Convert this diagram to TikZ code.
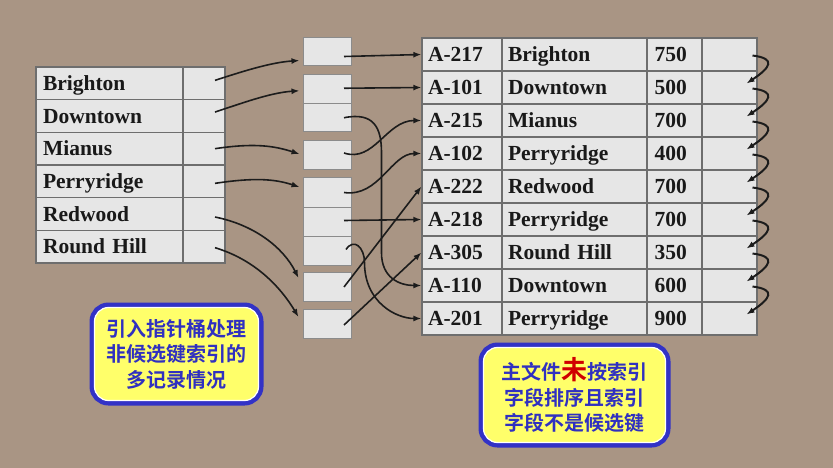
\documentclass[tikz,border=0pt]{standalone}
\usepackage{fontspec}
\newfontfamily\tabfont{Liberation Serif Bold}
\newfontfamily\cjkfont{Noto Sans CJK SC Bold}
\usepackage{xcolor}
\definecolor{bgBrown}    {HTML}{A99584}
\definecolor{cellFill}   {HTML}{E6E6E6}
\definecolor{cellLine}   {HTML}{6E6E6E}
\definecolor{arrowInk}   {HTML}{1C1C1C}
\definecolor{noteBlue}   {HTML}{3232C6}
\definecolor{noteText}   {HTML}{3030C0}
\definecolor{noteYellow} {HTML}{FFFF6A}
\definecolor{noteRed}    {HTML}{D00000}
\usetikzlibrary{arrows.meta, positioning, calc}
\tikzset{
    cell/.style={draw=cellLine, fill=cellFill, line width=1.2pt, inner ysep=0pt,
                 minimum height=33pt, text=black!90, text height=17pt, text depth=3pt,
                 font=\tabfont\fontsize{21.5}{24}\selectfont},
    textcell/.style={cell, align=left, text width=#1},
    ptrcell/.style={cell, inner xsep=0pt, minimum width=#1},
    bucket/.style={draw=cellLine!80, fill=cellFill, line width=1pt,
                   minimum width=48pt, minimum height=28.5pt, inner sep=0pt},
    ptr/.style={draw=arrowInk, line width=1.6pt, -{Latex[length=8pt, width=6pt]}},
    chain/.style={ptr, line width=2pt},
    note/.style={draw=white, line width=1.2pt, fill=noteYellow,
                 rounded corners=14pt, inner sep=0pt, align=center,
                 preaction={draw=noteBlue, line width=10pt},
                 text=noteText, font=\cjkfont\fontsize{20}{25.5}\selectfont},
}
\begin{document}
\begin{tikzpicture}[x=1pt, y=-1pt]
\useasboundingbox (0,0) rectangle (833,468);
\fill[bgBrown] (0,0) rectangle (833,468);
% Index on branch name: key and bucket pointer.
\foreach \name [count=\i] in {Brighton, Downtown, Mianus, Perryridge, Redwood, Round Hill} {
    \node[textcell=133pt, inner xsep=7pt, minimum height=32.7pt] (ln\i) at (109.5, {50.67+32.67*\i}) {\name};
    \node[ptrcell=42pt, minimum height=32.7pt] (lp\i) at (204, {50.67+32.67*\i}) {};
}
% Buckets of record pointers.
\node[bucket] (b1)  at (327, 51.5) {};
\node[bucket] (b2a) at (327, 89.25) {};
\node[bucket] (b2b) at (327,117.75) {};
\node[bucket] (b3)  at (327,155) {};
\node[bucket, minimum height=29pt] (b4a) at (327,192.5) {};
\node[bucket, minimum height=29pt] (b4b) at (327,221.5) {};
\node[bucket, minimum height=29pt] (b4c) at (327,250.5) {};
\node[bucket] (b5)  at (327,287) {};
\node[bucket] (b6)  at (327,324) {};
% Main file: account records, not sorted on branch name.
\foreach \acct/\branch/\bal [count=\i] in {A-217/Brighton/750, A-101/Downtown/500,
        A-215/Mianus/700, A-102/Perryridge/400, A-222/Redwood/700,
        A-218/Perryridge/700, A-305/Round Hill/350, A-110/Downtown/600,
        A-201/Perryridge/900} {
    \node[textcell=68pt, inner xsep=6pt]  (rid\i)  at (462,   {21.5+33*\i}) {\acct};
    \node[textcell=133pt, inner xsep=6pt] (rbr\i)  at (574.5, {21.5+33*\i}) {\branch};
    \node[textcell=40pt, inner xsep=7.5pt] (rbal\i) at (674.5, {21.5+33*\i}) {\bal};
    \node[ptrcell=55pt] (rptr\i) at (729.5, {21.5+33*\i}) {};
}
% Index entries to buckets.
\draw[ptr] ($(lp1.center)+(11,-3)$) .. controls +(25,-8) and +(-30,2) .. ($(b1.west)+(-3,9)$);
\draw[ptr] ($(lp2.center)+(11,-4)$) .. controls +(25,-8) and +(-30,2) .. ($(b2a.west)+(-3,1.5)$);
\draw[ptr] ($(lp3.center)+(11,0)$) .. controls +(40,-6) and +(-25,-8) .. ($(b3.west)+(-3,-1)$);
\draw[ptr] ($(lp4.center)+(11,2)$) .. controls +(40,-6) and +(-25,-8) .. ($(b4a.west)+(-3,-5.5)$);
\draw[ptr] ($(lp5.center)+(11,3)$) .. controls +(40,8) and +(-15,-30) .. ($(b5.west)+(-4,-9)$);
\draw[ptr] ($(lp6.center)+(11,1)$) .. controls +(40,12) and +(-18,-30) .. ($(b6.west)+(-4,-7)$);
% Buckets to records.
\draw[ptr] ($(b1.center)+(17,5)$) -- (rid1.west);
\draw[ptr] ($(b2a.center)+(17,-1)$) -- (rid2.west);
\draw[ptr] ($(b2b.center)+(17,0)$) .. controls +(30,-6) and +(0,-25) .. ($(b2b.east)+(30,35)$)
    -- ($(b2b.east)+(30,135)$) .. controls +(0,25) and +(-22,0) .. (rid8.west);
\draw[ptr] ($(b3.center)+(17,-2)$) .. controls +(30,10) and +(-35,0) .. (rid3.west);
\draw[ptr] ($(b4a.center)+(17,0)$) .. controls +(35,5) and +(-30,0) .. (rid4.west);
\draw[ptr] ($(b4b.center)+(17,-1)$) -- (rid6.west);
\draw[ptr] ($(b4c.center)+(19,-1)$) .. controls +(8,-12) and +(0,-15) .. ($(b4c.east)+(13,12)$)
    .. controls +(0,40) and +(-25,0) .. (rid9.west);
\draw[ptr] ($(b5.center)+(17,0)$) -- (rid5.west);
\draw[ptr] ($(b6.center)+(17,1)$) -- (rid7.west);
% Chain of records with the same key.
\foreach \k [count=\j from 2] in {1,...,8}
    \draw[chain] ($(rptr\k.center)+(23,1)$) .. controls +(24,3) and +(24,-16) .. ($(rptr\j.center)+(17,-4)$);
% Notes.
\node[note, minimum width=164pt, minimum height=93pt] (noteL) at (176.5,354)
    {引入指针桶处理\\非候选键索引的\\多记录情况};
\node[note, minimum width=182pt, minimum height=95pt] (noteR) at (574.5,395)
    {主文件{\color{noteRed}\fontsize{26}{25.5}\selectfont 未}按索引\\字段排序且索引\\字段不是候选键};
\end{tikzpicture}
\end{document}
